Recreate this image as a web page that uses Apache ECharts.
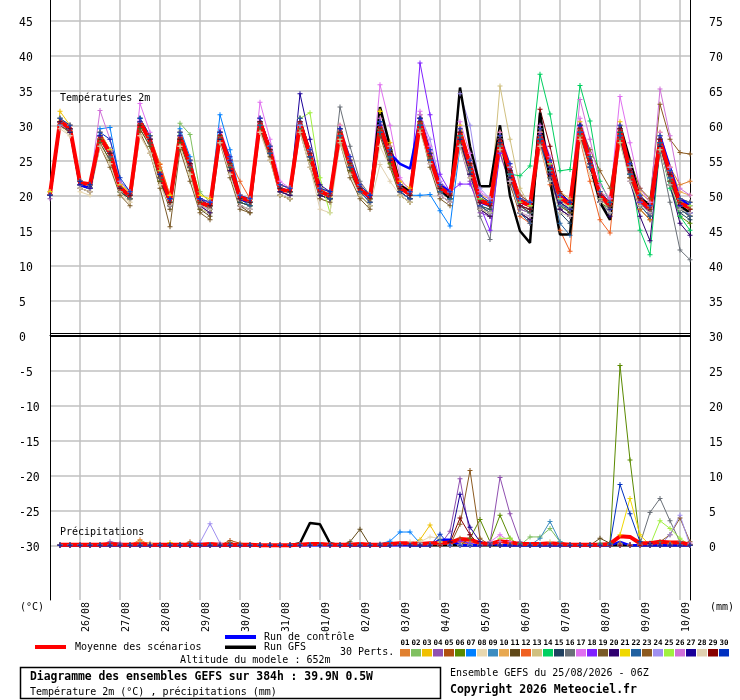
<!DOCTYPE html>
<html>
<head>
<meta charset="utf-8">
<script src="https://cdn.jsdelivr.net/npm/echarts@6/dist/echarts.min.js"></script>
<style>
  html, body { margin: 0; padding: 0; background: #fff; }
  #chart { width: 740px; height: 700px; }
</style>
</head>
<body>
<div id="chart"></div>
<script>
// run of 25/08/2026 06Z, one point every 6h up to 384h
const dayLabels = ['26/08', '27/08', '28/08', '29/08', '30/08', '31/08', '01/09', '02/09',
                   '03/09', '04/09', '05/09', '06/09', '07/09', '08/09', '09/09', '10/09'];
const tempTicks = [-30, -25, -20, -15, -10, -5, 0, 5, 10, 15, 20, 25, 30, 35, 40, 45];
const rightTicks = [0, 5, 10, 15, 20, 25, 30, 35, 40, 45, 50, 55, 60, 65, 70, 75];

const pertColors = ['#e08030', '#80c060', '#f0c000', '#9050b0', '#b05010', '#5a8a00', '#0080ff', '#e8d8b0',
                    '#3c8cc0', '#e8a850', '#604818', '#f06020', '#d0c080', '#00d060', '#204060', '#6a7078',
                    '#e070f0', '#8020ff', '#7a5a28', '#300070', '#f0d800', '#2060a0', '#8c5a20', '#a090f0',
                    '#a0f040', '#d070d8', '#1a0099', '#e0d0b0', '#880000', '#0030c0'];

// 2m temperature, first value 06Z then groups 12Z,18Z,00Z,06Z
const tMean = [20.2, 30.5,29.6,21.8,21.6, 28.3,26.1,21.1,19.9, 30.5,27.8,23.2,19.2, 28.5,24.4,18.9,18.5,
  28.7,24.4,19.7,19.2, 30.5,26.4,20.8,20.6, 30.3,25.9,20.6,19.9, 29.2,24.4,20.8,19.8,
  29.8,25.9,21.1,20.1, 30.6,25.4,21.1,20.1, 29.0,24.4,19.2,18.7, 27.8,23.5,19.2,18.5,
  28.7,24.4,19.7,18.7, 29.7,24.9,20.1,18.5, 29.5,23.5,19.4,18.0, 27.8,23.2,18.9,18.2];
const tCtrl = [20, 30.5,29.5,21.5,21, 28.5,26,21,20, 30.5,28,23,19, 28.5,24.5,19,18.5,
  28.5,24.5,19.5,19, 30.5,26.5,21,20.5, 30.5,26,20.5,20, 29,24.5,21,19.5,
  29.5,26,24.5,23.8, 31,26,21.5,20.5, 29,24.5,19,18.5, 28,23.5,19,18.5,
  29,25,20,19, 30,25.5,20,18.5, 29.5,24,19.5,18, 28.5,24,19.5,18.5];
const tGfs = [20, 30.5,29.5,21.5,21, 28.5,26,21,20, 30.5,28,23,19, 28.5,24.5,19,18.5,
  28.5,24.5,19.5,19, 30.5,26.5,21,20.5, 30.5,26,20.5,20, 29,24.5,21,19.5,
  32.6,27,21.5,20.5, 30.5,25.5,21,19.5, 35.4,27,21.3,21.3, 30,19.9,14.9,13.2,
  31.8,22.1,14.4,14.4, 30,24.5,19,16.5, 30,25,19.5,18.7, 28,23,18.5,17.5];

const t01 = [20, 30,29.5,21.5,21, 28,26.5,21.5,20, 30,28.5,24,19.5, 28,25,19.5,18.5, 29,25,20,19.5, 31,27,21.5,21, 30,26.5,21,20.5, 29.5,25,21.5,20, 30,26,21.5,20.5, 31,26,21.5,20.5, 28.5,24,19.5,19, 27,23,19.5,18.5, 28,24.5,20,19, 29,25.5,20.5,19, 29,24,20,18.5, 28.5,24,21.5,22];
const t02 = [20.5, 30,29,21,20.5, 27.5,25,20.5,19.5, 29.5,27,22,18.5, 30.3,28.7,20.5,19, 28,24,19,18.5, 30,26,20.5,20, 29.5,25,20,19.5, 28.5,24,20.5,19, 29,25.5,21,20.5, 29.5,25,20.5,19.5, 28,23.5,18.5,18, 27,22.5,18,17.5, 27.5,23,19,18, 28.5,24.5,19.5,18, 28,23,18.5,17.5, 27,22,18,17];
const t03 = [20, 32,30,22,21.5, 29,26.5,21.5,20.5, 31,28.5,23,19.5, 28.5,24.5,19,18.5, 29,25,19.5,19, 31,27,21,20.5, 31,26.5,21,20.5, 30,25,21.5,20, 32,27.5,22,21, 31.5,26,21.5,20.5, 30,25,19.5,19, 29,24,19.5,18.5, 29.5,25,20,19, 30.5,25.5,20.5,19, 30.5,24,20,18.5, 29,23.5,19.5,19];
const t04 = [19.5, 30.5,30,21,20.5, 28,25.5,21,19.5, 30.5,27.5,22.5,18.5, 28,24,18.5,17.5, 28.5,24,19,18.5, 30.5,26,20.5,20, 30,25.5,20.5,19.5, 29.5,24.5,21,19.5, 29,25,20.5,19.5, 30,24.5,20,19, 27,22,17.5,17, 26,21.5,18,17.5, 27,23,18.5,17.5, 28.5,24,19,17.5, 28,22.5,18.5,17, 26.5,21.5,18,17.5];
const t05 = [20, 30,29.5,22,21.5, 28.5,26,21.5,20, 30,28,23.5,19.5, 28,24.5,19,18, 28.5,25,20,19.5, 30,26.5,21.5,21, 30,26,21,20.5, 29,24.5,21.5,20, 29.5,26,21.5,20.5, 30,25.5,21.5,20.5, 28.5,24.5,19.5,19, 28,24,19.5,19, 29,25,20,19, 30,25.5,20.5,19, 29.5,24,20,18.5, 28,23,19.5,18.5];
const t06 = [20, 30.5,29,21.5,21, 28.5,25.5,20.5,19.5, 31,27.5,22,18.5, 27.5,23,18,17.5, 28,24,19,18.5, 30,26,20,19.5, 30,25,20,19.5, 28,23.5,20,18.5, 29,24.5,20,19, 30.5,25.5,20.5,19.5, 28.5,23,18,17.5, 27,22.5,18.5,18, 27.5,23.5,18.5,17.5, 28.5,24.5,19,18, 27.5,22.5,18,16.5, 26.5,21.5,17,16];
const t07 = [20, 30.5,30,22,21.5, 29.5,29.7,22,20.5, 31,28.5,23.5,19.5, 29.5,25.5,19.5,19, 31.5,26.5,20,19.5, 31,27,21,20.5, 31,26.5,20.5,20, 29,24.5,21,20, 30,26,21.5,20, 20,20.1,17.8,15.6, 27,23,18.5,17.5, 27.5,23,18.5,17.5, 28,24,19,18, 29,24.5,19.5,18, 28.5,23,19,17.5, 27.5,22.5,18.5,17.5];
const t08 = [20, 30,28.5,20.5,20, 27,24.5,20,19, 28.5,26,21.5,18, 27,23,18,17.5, 27.5,23,18.5,18, 29,25,20,19.5, 29.5,25,19.5,19, 28,24,20.5,19, 27,24,20,19, 29.5,25,20.5,19.5, 28,24,19,18.5, 27,23,18.5,18, 28,24,19,18.5, 28.5,24,19.5,18, 28.5,23,19,17.5, 27,22.5,18.5,18];
const t09 = [20, 31,29.5,21.5,21, 29,26.5,21,20, 30.5,28,23,19, 29,24.5,19,18.5, 29,25,19.5,19, 30.5,26.5,21,20.5, 30.5,26,20.5,20, 29.5,24.5,21,19.5, 30.5,26,21,20, 30,25.5,21,19.5, 29,24.5,19.5,18.5, 28,23.5,18.5,17.5, 28,23.5,18.5,18, 29,24,19.5,18, 29,23,19,17.5, 27.5,22.5,18.5,17];
const t10 = [20.5, 30.5,30,22,21.5, 28,26,21,20, 30,28,24.5,20, 29,25,19.5,19, 28.5,24.5,20,19.5, 30,26,21,20.5, 30,26,21,20.5, 29,25,21.5,20, 30,26.5,21.5,20.5, 31,26,21.5,20.5, 29.5,25,20,19.5, 28.5,24,20,19, 29,25,20.5,19.5, 30,25,20.5,19.5, 29.5,24.5,20.5,19, 28.5,24,20.5,20];
const t11 = [20, 30,29,21.5,21, 27.5,25,20.5,19.5, 29.5,27,22,18, 27.5,23.5,18,17, 28,23.5,18.5,17.5, 29.5,25.5,20,19.5, 29.5,25,20,19.5, 28.5,23.5,20,18.5, 29,25,20.5,19.5, 31,25,20.5,19.5, 28,23,18.5,17.5, 27.5,23,18.5,17.5, 28,24,19,17.5, 29,24.5,19.5,18, 29,23,19,17.5, 28,23,19,18];
const t12 = [20, 30.5,29.5,22,21.5, 28.5,26,21.5,20, 30.5,28.5,24.4,20, 28.5,24.5,19.5,19, 29,25,22,19.5, 30.5,26.5,21.5,21, 30,26,20.5,20, 29,24,21,19.5, 29.5,25.5,21,20, 30.5,25,20.5,19.5, 28.5,23.5,18.5,17.5, 27.5,22,17,16, 27,21.5,15,12, 28,22,16.5,14.6, 28.5,22.5,18,16.5, 27,22,18,17];
const t13 = [20, 30.5,29.5,21.5,21, 28,25.5,21,19.5, 30,27.5,22.5,19, 28,24,19,18.5, 28.5,24,19.5,19, 30,26,21,20.5, 30,25.5,20.5,20, 28.5,24,21,19.5, 29,25.5,21,20, 30.5,25.5,21,19.5, 29,24.5,19.5,18.5, 35.6,28,21,18.5, 29,24.5,19.5,18, 29.5,24.5,19.5,18, 29.5,23.5,19.5,18, 28,23,19,18];
const t14 = [20, 31,29.5,22,21.5, 28.5,26,21,20, 30.5,28,23,19, 28.5,24.5,19.5,19, 28.5,24.5,19.5,19, 30.5,26.5,21,20.5, 30.5,26,20.5,20, 29,24.5,21,19.5, 29.5,25.5,21,20, 30,25,21,19.5, 28.5,24,19.5,19, 27.5,23,22.8,24.2, 37.3,31.6,23.5,23.7, 35.7,30.6,22,19, 29,24,15,11.5, 27,21,17,15];
const t15 = [20, 30.5,29,21.5,21, 28,25.5,20.5,19.5, 30,27.5,22.5,18.5, 28,24,18.5,18, 28.5,24,19,18.5, 30.5,26,20.5,20, 30,25.5,20,19.5, 28.5,24,20.5,19, 29.5,25.5,20.5,19.5, 30.5,25,20.5,19.5, 28,23,18.5,18, 27,22,17.5,16.5, 27.5,22.5,17.5,16, 29,24,19,17.5, 29,23,18.5,17, 27.5,22,17.5,16.5];
const t16 = [20, 30,29,21.5,21, 28,25.5,21,19.5, 30.5,27.5,22.5,19, 28,24,19,18, 28.5,24.5,19.5,19, 30.5,26.5,21,20.5, 30,26,20.5,20, 32.6,27,22,20, 29.5,25.5,21,20, 30,25,20.5,19.5, 28,23,17,13.7, 27,22.5,17.5,16.5, 27.5,22.5,18,17, 29,24,19,17.5, 28.5,23,18.5,17, 26,19,12.2,10.8];
const t17 = [20, 31,30,22,21.5, 29,26.5,21.5,20, 33.1,29,23,19.5, 29,25,19.5,19, 29.5,25.5,20,19.5, 33.3,28,22,21, 31,26.5,21,20.5, 30,25.5,21.5,20, 35.8,30,22.5,20.5, 32,27,22,20.5, 30.5,26,20.5,19.5, 29,24.5,20,19, 30,25.5,20,19, 31,26,20.5,19.5, 34.1,27.5,21,19, 29,24,19.5,19];
const t18 = [20, 30.5,29.5,22,21.5, 28.5,26,21,20, 30.5,28,23,19.5, 29,25,19.5,19, 29,25,19.5,19, 31,27,21.5,21, 30.5,26,20.5,20, 29,24.5,21,19.5, 30,26,21.5,20.5, 38.9,31.5,23,20.5, 21.6,21.6,18.5,15, 26,22,17.5,17, 27.5,23,18,17, 29,24,19,17.5, 29.5,23.5,19,17.5, 28,23,18.5,17.5];
const t19 = [20, 30,29,21,20.5, 27,24,20,18.5, 29,26,21,15.5, 26.5,22,17.5,16.5, 27.5,22.5,18,17.5, 29.5,25,20,19.5, 29,24,19.5,19, 27.5,22.5,19.5,18, 28.5,24,20,19, 29.5,24,19.5,18.5, 27.5,22.5,18,17, 26.5,21.5,17.5,16.5, 27.5,23,18,17, 28.5,24,19,17.5, 28,22.5,18.5,17, 27,22,18,17];
const t20 = [20, 30.5,29,21.5,21, 28.5,26,21,20, 30.5,27.5,22.5,18.5, 28,24,18.5,17.5, 28,23.5,18.5,18, 30,26,20.5,20, 30.5,25.5,20,19.5, 29,24,20.5,19, 29,25,20.5,19.5, 30,25,20,19, 28,23,18,17, 27.5,22.5,17.5,16.5, 28,23,18,17, 29.5,24.5,19,17, 28.5,22,17,13.5, 27,21.5,16,14.3];
const t21 = [20.5, 31,30,22,21.5, 29,26.5,21.5,20.5, 30.5,28.5,23.5,20, 29,25,20,19.5, 29,25,20,19.5, 30.5,27,21.5,21, 31,26.5,21,20.5, 29.5,25,21.5,20, 32,27,21.5,20.5, 31,26,21,20, 29.5,25,20,19, 28.5,24,19.5,19, 29,25,20,19, 30,25.5,20.5,19, 30,24,20,18.5, 28.5,23.5,19.5,19];
const t22 = [20, 30.5,29.5,21.5,21, 28.5,26,21,20, 30.5,28,22.5,19, 28.5,24,19,18.5, 28.5,24.5,19.5,18.5, 30,26,21,20.5, 30,25.5,20.5,19.5, 28.5,24,20.5,19, 29,25.5,20.5,19.5, 30,25,20.5,19.5, 28.5,23.5,18.5,17.5, 28,23,17.5,16, 28,22,16,14.3, 29,24,19,17.5, 28.5,23,18.5,17, 27.5,22.5,18,17];
const t23 = [20, 30.5,29.5,22,21.5, 28,26,21,20, 30,27.5,22.5,19, 28,24,19,18.5, 28.5,24.5,19.5,19, 30.5,26.5,21,20.5, 30.5,26,20.5,20, 29,24.5,21,19.5, 29.5,26,21,20, 31,26,21.5,20.5, 29,24.5,19.5,19, 28.5,24,20,19, 29,25,20,19, 30,26.5,23.5,21, 29.5,25,21,19.5, 33,28,26.1,25.9];
const t24 = [20, 30,29.5,21.5,21, 28.5,26,21,20, 30.5,28,23,19.5, 28.5,24.5,19.5,19, 28.5,24.5,19.5,19, 30.5,26.5,21,20.5, 30,26,20.5,20, 29,24.5,21,19.5, 30,26,21,20, 31.5,28,22,20.5, 34.5,30,21,19.5, 28,24,19.5,19, 28.5,24.5,19.5,18.5, 29.5,25,20,18.5, 29.5,24,19.5,18, 28.5,23.5,19,18.5];
const t25 = [20, 30.5,29.5,22,21.5, 28,26,21,20, 30.5,28,23,19.5, 28.5,24.5,19,18.5, 28.5,24.5,19.5,19, 30.5,26.5,21,20.5, 31,31.8,22.5,17.5, 29,24.5,21,19.5, 29.5,26,21,20, 30.5,25.5,21,20, 29,24,19.5,18.5, 28,23.5,19,18.5, 28.5,24.5,19.5,18.5, 29.5,25,20,18.5, 29.5,23.5,19.5,18, 28,23,19,18.5];
const t26 = [20, 30.5,29.5,22,21.5, 32.1,28,22,20.5, 30.5,28,23,19.5, 28.5,24.5,19.5,19, 29,25,20,19.5, 31,27,21.5,21, 30.5,26.5,21,20.5, 29.5,25,21.5,20, 31,27,21.5,20.5, 31.5,26.5,21.5,20.5, 29.5,25,20,19, 28.5,24,19.5,19, 29,25,20,19, 33.7,28,21.5,19.5, 30,24.5,20,18.5, 35.2,28.5,21,20];
const t27 = [20, 30.5,29.5,21.5,21, 28.5,26,21,20, 30.5,28,23,19.5, 28.5,24.5,19.5,18.5, 29,25,19.5,19, 30.5,26.5,21,20.5, 34.5,28,21.5,20.5, 29.5,25,21,20, 30,26,21,20, 31,26,21,20, 29,24,19,18.5, 28,23.5,18.5,18, 28.5,24,19,18, 30,25,20,18, 29.5,23.5,19.5,17.5, 28,23,18.5,17.5];
const t28 = [20, 29.5,28.5,21,20.5, 27,24.5,20.5,19, 28.5,26,21.5,18.5, 27,23,18.5,18, 27.5,23,18.5,18, 29,25,20,19.5, 29,24,18,17.5, 27.5,23,20,18.5, 24.4,22,20,19, 29,24.5,20,19, 27,22.5,18,17.5, 26.5,22,17.5,17, 27,22,17.5,17, 28,23,19,17.5, 27.5,22,18.5,17.5, 26.5,21.5,18,17.5];
const t29 = [20, 30.5,29.5,22,21.5, 28,26,21,20, 30,28,23,19, 28,24.5,19,18.5, 28.5,24.5,19.5,19, 30.5,26.5,21,20.5, 30.5,26,20.5,20, 29,24.5,21,19.5, 29.5,26,21,20, 30.5,25.5,21,20, 29,24.5,19,18.5, 28,23.5,18.5,18, 32.3,27,20.5,19, 29.5,25,20,18.5, 29.5,23.5,19.5,18, 28,23,19,18];
const t30 = [20, 31,30,22,21.5, 29,28,22.5,20.5, 31,28.5,23,19.5, 29,25,19.5,19, 29,25.5,20,19.5, 31,27,21.5,21, 31,26.5,21,20.5, 29.5,25.5,21.5,20, 30.5,26.5,21.5,20.5, 31,26.5,21.5,20.5, 29.5,25,20,19, 28.5,24.5,19.5,19, 29.5,25,20,19, 30,25.5,20.5,19, 30,24.5,20,18.5, 28.5,23.5,19.5,19];

// precipitation (mm) per 6h; members as [step, mm] where it is not zero
const rMean = [null, 0.1,0.1,0.1,0.1, 0.1,0.2,0.1,0.1, 0.2,0.1,0.1,0.1, 0.1,0.1,0.1,0.2, 0.1,0.1,0.1,0.1,
  0,0,0,0, 0.1,0.2,0.2,0.1, 0.1,0.1,0.2,0.1, 0.1,0.2,0.3,0.3, 0.2,0.3,0.3,0.4, 0.9,0.8,0.3,0.2,
  0.6,0.4,0.2,0.2, 0.2,0.3,0.2,0.1, 0.1,0.1,0.1,0.2, 1.3,1.2,0.3,0.3, 0.5,0.4,0.4,0.1];
const rCtrl = [[39, 0.8], [40, 0.8], [44, 0.3], [57, 0.5]];
const rGfs = [[25, 0.3], [26, 3.2], [27, 3.0], [28, 0.3], [35, 0.3]];
const r01 = [[9, 0.8], [42, 0.5], [62, 0.3]];
const r02 = [[44, 0.5], [48, 1.2], [49, 1.2], [50, 2.4], [51, 0.5]];
const r03 = [[12, 0.4], [37, 0.8], [38, 2.9], [39, 0.5], [57, 0.3]];
const r04 = [[6, 0.5], [7, 0.3], [40, 2], [41, 9.5], [42, 1.5], [44, 0.3], [45, 9.7], [46, 4.5], [47, 0.5]];
const r05 = [[14, 0.5], [18, 0.7], [19, 0.3], [41, 1]];
const r06 = [[42, 1], [43, 3.7], [44, 0.5], [45, 4.3], [46, 1], [56, 0.3], [57, 25.7], [58, 12.2], [59, 0.5]];
const r07 = [[33, 0.2], [34, 0.6], [35, 1.9], [36, 1.9], [37, 0.3]];
const r08 = [[10, 0.3], [37, 0.5], [38, 1.2], [39, 1.0]];
const r09 = [[49, 1.0], [50, 3.4], [51, 0.5]];
const r10 = [[9, 0.5], [10, 0.3], [39, 0.4]];
const r11 = [[30, 0.5], [31, 2.3], [55, 1.0], [56, 0.3]];
const r12 = [[41, 0.5], [46, 0.3]];
const r13 = [[39, 0.6], [50, 0.5]];
const r14 = [[47, 0.3], [55, 0.3]];
const r15 = [[44, 0.4]];
const r16 = [[59, 0.2], [60, 4.7], [61, 6.7], [62, 3.5], [63, 0.5]];
const r17 = [[44, 0.5], [45, 1.5], [46, 0.5]];
const r18 = [[41, 0.6], [42, 0.3]];
const r19 = [[18, 0.4], [42, 1]];
const r20 = [[60, 0.3]];
const r21 = [[56, 0.2], [57, 1.5], [58, 6.7], [59, 1.5]];
const r22 = [[39, 0.8], [40, 0.4]];
const r23 = [[41, 3.0], [42, 10.7], [43, 1.0], [61, 0.5], [62, 1.5], [63, 3.9], [64, 0.5]];
const r24 = [[15, 0.4], [16, 3.1], [17, 0.3], [62, 1.5], [63, 4.3]];
const r25 = [[45, 1.0], [46, 1.0], [61, 3.5], [62, 2.4], [63, 1.0]];
const r26 = [[45, 0.5], [64, 0.3]];
const r27 = [[40, 0.5], [41, 7.3], [42, 2.6], [43, 0.5]];
const r28 = [[36, 0.5], [37, 0.3]];
const r29 = [[40, 0.4], [41, 3.9], [42, 1.5]];
const r30 = [[39, 1.6], [56, 0.2], [57, 8.7], [58, 4.5], [59, 0.5]];

const pertTemps = [t01, t02, t03, t04, t05, t06, t07, t08, t09, t10, t11, t12, t13, t14, t15,
                   t16, t17, t18, t19, t20, t21, t22, t23, t24, t25, t26, t27, t28, t29, t30];
const pertRain = [r01, r02, r03, r04, r05, r06, r07, r08, r09, r10, r11, r12, r13, r14, r15,
                  r16, r17, r18, r19, r20, r21, r22, r23, r24, r25, r26, r27, r28, r29, r30];

const hours = [];
for (let h = 0; h <= 384; h += 6) hours.push(h);

// sparse rain list -> full series (no value at the first step)
function rainData(pairs) {
    const a = hours.map(function (h, i) { return i === 0 ? null : 0; });
    pairs.forEach(function (p) { a[p[0]] = p[1]; });
    return a;
}

const mono = "'DejaVu Sans Mono', monospace";
const plus = 'path://M4,0H6V10H4Z M0,4H10V6H0Z';
const isDay = function (i) { return i % 4 === 3; };

function thin(data, color, axis) {
    return {
        type: 'line', data: data, yAxisIndex: axis, symbol: plus, symbolSize: 5, showSymbol: true,
        lineStyle: { width: 1, color: color }, itemStyle: { color: color },
        silent: true, animation: false
    };
}
function thick(data, color, width, axis) {
    return {
        type: 'line', data: data, yAxisIndex: axis, showSymbol: false,
        lineStyle: { width: width, color: color }, itemStyle: { color: color },
        silent: true, animation: false
    };
}

const series = [];
pertTemps.forEach(function (t, k) { series.push(thin(t, pertColors[k], 0)); });
pertRain.forEach(function (r, k) { series.push(thin(rainData(r), pertColors[k], 1)); });
series.push(thick(tGfs, '#000000', 2.5, 0));
series.push(thick(rainData(rGfs), '#000000', 2.5, 1));
series.push(thick(tCtrl, '#0000ff', 2.5, 0));
series.push(thick(rainData(rCtrl), '#0000ff', 2.5, 1));
series.push(thick(tMean, '#ff0000', 4, 0));
series.push(thick(rMean, '#ff0000', 4, 1));

function txt(x, y, s, font, align) {
    return {
        type: 'text', silent: true, z: 20,
        style: { x: x, y: y, text: s, font: font, fill: '#000', align: align || 'left', verticalAlign: 'middle' }
    };
}

const graphics = [
    txt(60, 98.5, 'Températures 2m', '10px ' + mono),
    txt(60, 532, 'Précipitations', '10px ' + mono),
    txt(20, 607, '(°C)', '10px ' + mono),
    txt(710, 607, '(mm)', '10px ' + mono),
    { type: 'line', silent: true, z: 20, shape: { x1: 50, y1: 333.5, x2: 690, y2: 333.5 }, style: { stroke: '#000', lineWidth: 1 } },
    { type: 'line', silent: true, z: 20, shape: { x1: 50, y1: 336.5, x2: 690, y2: 336.5 }, style: { stroke: '#000', lineWidth: 1 } },
    { type: 'rect', silent: true, shape: { x: 35, y: 645, width: 31, height: 4 }, style: { fill: '#ff0000' } },
    txt(75, 647.5, 'Moyenne des scénarios', '10px ' + mono),
    { type: 'rect', silent: true, shape: { x: 225, y: 635, width: 31, height: 4 }, style: { fill: '#0000ff' } },
    txt(264, 637, 'Run de contrôle', '10px ' + mono),
    { type: 'rect', silent: true, shape: { x: 225, y: 645.5, width: 31, height: 3.5 }, style: { fill: '#000000' } },
    txt(264, 647.5, 'Run GFS', '10px ' + mono),
    txt(180, 660.5, 'Altitude du modele : 652m', '10px ' + mono),
    txt(340, 652.5, '30 Perts.', '10px ' + mono),
    { type: 'rect', silent: true, shape: { x: 20.5, y: 667.5, width: 420, height: 31 }, style: { fill: 'none', stroke: '#000', lineWidth: 1.5 } },
    txt(30, 677.5, 'Diagramme des ensembles GEFS sur 384h : 39.9N 0.5W', 'bold 11.4px ' + mono),
    txt(30, 692, 'Température 2m (°C) , précipitations (mm)', '10px ' + mono),
    txt(450, 673, 'Ensemble GEFS du 25/08/2026 - 06Z', '10px ' + mono),
    txt(450, 690.5, 'Copyright 2026 Meteociel.fr', 'bold 11.5px ' + mono)
];
pertColors.forEach(function (c, k) {
    graphics.push({ type: 'rect', silent: true, shape: { x: 400 + 11 * k, y: 649, width: 10, height: 7.5 }, style: { fill: c } });
    graphics.push(txt(405 + 11 * k, 643.5, (k < 9 ? '0' : '') + (k + 1), 'bold 7.5px ' + mono, 'center'));
});

const chart = echarts.init(document.getElementById('chart'), null, { renderer: 'canvas' });
chart.setOption({
    backgroundColor: '#ffffff',
    animation: false,
    grid: { left: 50, right: 50, top: 0, bottom: 100 },
    xAxis: {
        type: 'category', data: hours, boundaryGap: false,
        axisLine: { lineStyle: { color: '#000', width: 1 } },
        axisTick: { show: false },
        axisLabel: {
            interval: isDay, rotate: 90, margin: 2, color: '#000', fontFamily: mono, fontSize: 10,
            verticalAlign: 'top', lineHeight: 12,
            formatter: function (v, i) { return isDay(i) ? dayLabels[(i - 3) / 4] : ''; }
        },
        splitLine: { show: true, interval: isDay, lineStyle: { color: '#c0c0c0', width: 1.5 } }
    },
    yAxis: [{
        type: 'value', min: -37.81, max: 47.9, position: 'left',
        axisLine: { show: true, lineStyle: { color: '#000', width: 1 } },
        axisTick: { show: false, customValues: tempTicks },
        axisLabel: { customValues: tempTicks, align: 'left', margin: 31, color: '#000', fontFamily: mono,
                     fontSize: 11.5, verticalAlign: 'top', lineHeight: 6 },
        splitLine: { show: true, lineStyle: { color: '#c0c0c0', width: 1.5 } }
    }, {
        type: 'value', min: -7.81, max: 77.9, position: 'right',
        axisLine: { show: true, lineStyle: { color: '#000', width: 1 } },
        axisTick: { show: false, customValues: rightTicks },
        axisLabel: { customValues: rightTicks, align: 'left', margin: 19, color: '#000', fontFamily: mono,
                     fontSize: 11.5, verticalAlign: 'top', lineHeight: 6 },
        splitLine: { show: false }
    }],
    graphic: graphics,
    series: series
});
</script>
</body>
</html>
